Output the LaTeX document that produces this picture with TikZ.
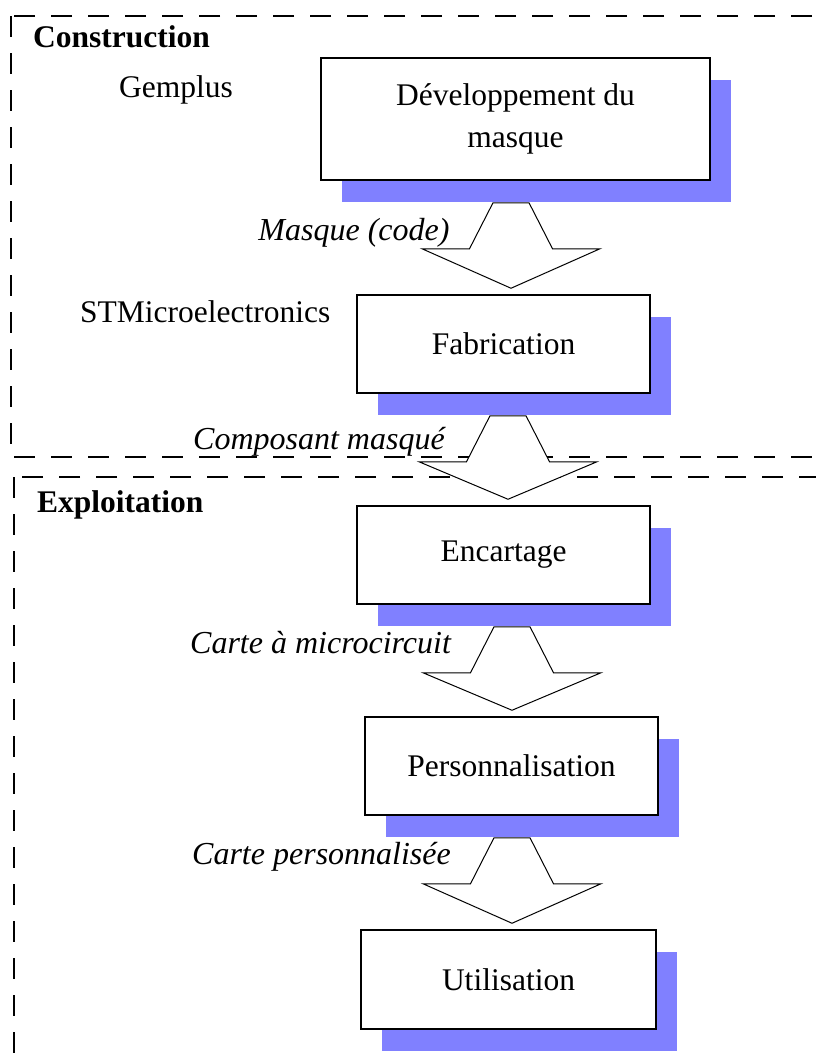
\documentclass[tikz,border=0pt]{standalone}
\usepackage{fontspec}
\setmainfont{Liberation Serif}
\usetikzlibrary{calc,shadows}
\definecolor{ombre}{RGB}{128,128,255}
\tikzset{
  etape/.style={draw, line width=1.5pt, fill=white, inner sep=0pt,
    minimum width=293pt, minimum height=98pt, align=center,
    font=\fontsize{31.5}{42}\selectfont,
    drop shadow={shadow xshift=21pt, shadow yshift=-22pt, fill=ombre, opacity=1}},
  cadre/.style={line width=1.5pt, dash pattern=on 21pt off 16pt},
  fleche/.style={draw, fill=white, line width=1pt, line join=miter},
  titre/.style={font=\fontsize{31.5}{38}\selectfont\bfseries, anchor=base west, inner sep=0pt},
  acteur/.style={font=\fontsize{31.5}{38}\selectfont, anchor=base west, inner sep=0pt},
  produit/.style={font=\fontsize{32}{38}\selectfont\itshape, anchor=base west, inner sep=0pt}
}
\begin{document}
\begin{tikzpicture}[x=1pt, y=-1pt]
  \useasboundingbox (0,0) rectangle (816,1063);

  % Cadres en pointillés
  \draw[cadre] (11,16) rectangle (840,457);
  \draw[cadre] (14,477) rectangle (840,1090);
  \node[titre] (construction) at (33,47) {Construction};
  \node[titre] (exploitation) at (37,512) {Exploitation};
  \node[acteur] (gemplus) at (119,97) {Gemplus};
  \node[acteur] (stm) at (80,322) {STMicroelectronics};

  % Étapes du cycle de vie
  \node[etape, minimum width=389pt, minimum height=122pt] (dev) at (515.5,119) {Développement du\\masque};
  \node[etape] (fab) at (503.5,344) {Fabrication};
  \node[etape] (enc) at (503.5,555) {Encartage};
  \node[etape] (pers) at (511.5,766) {Personnalisation};
  \node[etape, minimum width=295pt, minimum height=99pt] (util) at (508.5,979.5) {Utilisation};

  % Flèches épaisses entre les étapes
  \foreach \de/\vers/\x in {dev/fab/511, fab/enc/508, enc/pers/512, pers/util/512} {
    \coordinate (h-\vers) at ($(\x,0 |- \de.south)+(0,22)$);
    \coordinate (p-\vers) at ($(\x,0 |- \vers.north)+(0,-6)$);
    \draw[fleche] ($(h-\vers)+(-18,0)$) -- ($(h-\vers)+(18,0)$) -- ($(h-\vers)+(41.5,46)$)
      -- ($(h-\vers)+(89,46)$) -- (p-\vers) -- ($(h-\vers)+(-89,46)$)
      -- ($(h-\vers)+(-41.5,46)$) -- cycle;
  }

  % Produits transmis
  \node[produit, anchor=base] (masque) at (354,240) {Masque (code)};
  \node[produit] (composant) at (193,449) {Composant masqué};
  \node[produit] (carte) at (190,653) {Carte à microcircuit};
  \node[produit] (cartep) at (192,864) {Carte personnalisée};
\end{tikzpicture}
\end{document}
